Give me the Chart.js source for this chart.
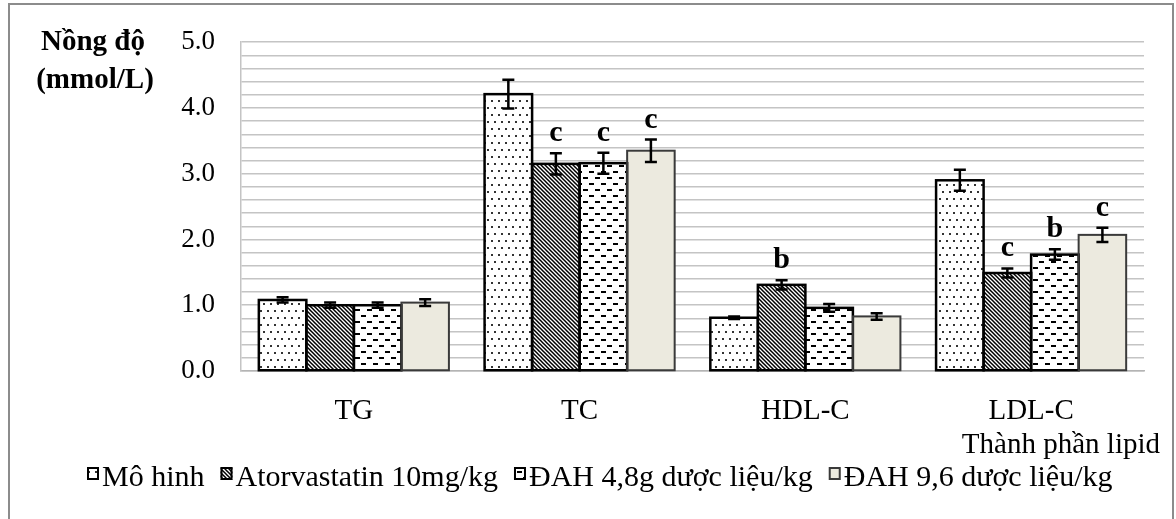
<!DOCTYPE html>
<html>
<head>
<meta charset="utf-8">
<script src="https://cdn.jsdelivr.net/npm/chart.js@4.4.1/dist/chart.umd.min.js"></script>
<style>
  html, body { margin: 0; padding: 0; background: #fff; overflow: hidden; }
  #wrap { position: relative; width: 1176px; height: 519px; }
  #frame { position: absolute; left: 8px; top: 3px; width: 1166px; height: 560px; border: 2px solid #8c8c8c; box-sizing: border-box; }
  canvas { position: absolute; left: 0; top: 0; }
</style>
</head>
<body>
<div id="wrap">
  <div id="frame"></div>
  <canvas id="chart" width="1176" height="519"></canvas>
</div>
<script>
// values
const categories = ['TG', 'TC', 'HDL-C', 'LDL-C'];
const seriesNames = ['Mô hinh', 'Atorvastatin 10mg/kg', 'ĐAH 4,8g dược liệu/kg', 'ĐAH 9,6 dược liệu/kg'];
const moHinh = [1.08, 4.21, 0.81, 2.90];
const moHinhErr = [0.04, 0.22, 0.02, 0.16];
const atorva = [1.00, 3.15, 1.31, 1.49];
const atorvaErr = [0.04, 0.16, 0.07, 0.07];
const dah48 = [1.00, 3.16, 0.96, 1.77];
const dah48Err = [0.04, 0.16, 0.06, 0.08];
const dah96 = [1.04, 3.35, 0.83, 2.07];
const dah96Err = [0.05, 0.17, 0.05, 0.11];
const moHinhSig = ['', '', '', ''];
const atorvaSig = ['', 'c', 'b', 'c'];
const dah48Sig = ['', 'c', '', 'b'];
const dah96Sig = ['', 'c', '', 'c'];

const errors = [moHinhErr, atorvaErr, dah48Err, dah96Err];
const sigs = [moHinhSig, atorvaSig, dah48Sig, dah96Sig];
const SERIF = '"Liberation Serif", "Times New Roman", serif';

function makePattern(w, h, draw) {
  const c = document.createElement('canvas');
  c.width = w; c.height = h;
  const g = c.getContext('2d');
  g.fillStyle = '#fff';
  g.fillRect(0, 0, w, h);
  draw(g);
  return g.createPattern(c, 'repeat');
}

const dots = makePattern(7, 14, (g) => {
  g.fillStyle = '#333';
  g.fillRect(1, 2, 2, 2);
  g.fillRect(4, 9, 2, 2);
});
const hatch = makePattern(4, 4, (g) => {
  g.strokeStyle = '#000';
  g.lineWidth = 1.5;
  g.beginPath();
  g.moveTo(-1, -1); g.lineTo(5, 5);
  g.moveTo(3, -1); g.lineTo(5, 1);
  g.moveTo(-1, 3); g.lineTo(1, 5);
  g.stroke();
});
const dashes = makePattern(12, 12, (g) => {
  g.fillStyle = '#000';
  g.fillRect(1, 3, 5, 2);
  g.fillRect(7, 9, 5, 2);
});
const beige = '#ECEADF';

const fills = [dots, hatch, dashes, beige];
const borders = ['#000', '#000', '#000', '#3a3a3a'];
const borderWidths = [2.5, 2.5, 2.5, 2];

const extras = {
  id: 'extras',
  afterDatasetsDraw(chart) {
    const { ctx } = chart;
    const y = chart.scales.y;
    ctx.save();
    // outlines centred on the bar edges, so neighbours share one line
    chart.data.datasets.forEach((ds, di) => {
      chart.getDatasetMeta(di).data.forEach((bar) => {
        const p = bar.getProps(['x', 'y', 'base', 'width'], true);
        ctx.strokeStyle = borders[di];
        ctx.lineWidth = borderWidths[di];
        ctx.strokeRect(p.x - p.width / 2, p.y, p.width, p.base - p.y);
      });
    });
    chart.data.datasets.forEach((ds, di) => {
      chart.getDatasetMeta(di).data.forEach((bar, i) => {
        const v = ds.data[i];
        const e = errors[di][i];
        const top = y.getPixelForValue(v + e);
        const bot = y.getPixelForValue(v - e);
        ctx.strokeStyle = '#000';
        ctx.lineWidth = 2.5;
        ctx.beginPath();
        ctx.moveTo(bar.x, top); ctx.lineTo(bar.x, bot);
        ctx.moveTo(bar.x - 6, top); ctx.lineTo(bar.x + 6, top);
        ctx.moveTo(bar.x - 6, bot); ctx.lineTo(bar.x + 6, bot);
        ctx.stroke();
        const s = sigs[di][i];
        if (s) {
          ctx.font = 'bold 30px ' + SERIF;
          ctx.fillStyle = '#000';
          ctx.textAlign = 'center';
          ctx.textBaseline = 'alphabetic';
          ctx.fillText(s, bar.x, top - 12);
        }
      });
    });
    ctx.restore();
  },
  afterDraw(chart) {
    const { ctx } = chart;
    ctx.save();
    ctx.fillStyle = '#000';
    ctx.textBaseline = 'alphabetic';
    // y axis title, horizontal at top-left
    ctx.font = 'bold 29px ' + SERIF;
    ctx.textAlign = 'center';
    ctx.fillText('Nồng độ', 93, 50);
    ctx.fillText('(mmol/L)', 95, 88);
    // x axis title
    ctx.font = '29px ' + SERIF;
    ctx.textAlign = 'right';
    ctx.fillText('Thành phần lipid', 1160, 453);
    // legend
    ctx.font = '30px ' + SERIF;
    ctx.textAlign = 'left';
    let x = 87;
    seriesNames.forEach((name, i) => {
      ctx.fillStyle = fills[i];
      ctx.fillRect(x, 467, 12, 13);
      ctx.strokeStyle = borders[i];
      ctx.lineWidth = 2;
      ctx.strokeRect(x + 1, 468, 10, 11);
      ctx.fillStyle = '#000';
      ctx.fillText(name, x + 15, 486);
      x += 15 + ctx.measureText(name).width + 16;
    });
    ctx.restore();
  }
};

Chart.defaults.font.family = SERIF;

new Chart(document.getElementById('chart'), {
  type: 'bar',
  data: {
    labels: categories,
    datasets: [moHinh, atorva, dah48, dah96].map((data, i) => ({
      label: seriesNames[i],
      data,
      backgroundColor: fills[i],
      borderWidth: 0,
      categoryPercentage: 0.842,
      barPercentage: 1,
    })),
  },
  options: {
    responsive: false,
    animation: false,
    layout: { padding: { left: 0, right: 32, top: 39, bottom: 0 } },
    plugins: {
      legend: { display: false },
      tooltip: { enabled: false },
    },
    scales: {
      x: {
        grid: { display: false },
        border: { display: true, color: '#b4b4b4', width: 1.5 },
        ticks: { color: '#000', font: { size: 29 }, padding: 15 },
        afterFit: (s) => { s.height = 148; },
      },
      y: {
        min: 0,
        max: 5,
        ticks: {
          stepSize: 0.2,
          autoSkip: false,
          color: '#000',
          font: { size: 27 },
          padding: 26,
          callback: (v) => (Math.abs(v - Math.round(v)) < 1e-6 ? v.toFixed(1) : ''),
        },
        grid: { color: '#c4c4c4', lineWidth: 1.5, drawTicks: false },
        border: { display: true, color: '#c4c4c4', width: 1.5 },
        afterFit: (s) => { s.width = 241; },
      },
    },
  },
  plugins: [extras],
});
</script>
</body>
</html>
